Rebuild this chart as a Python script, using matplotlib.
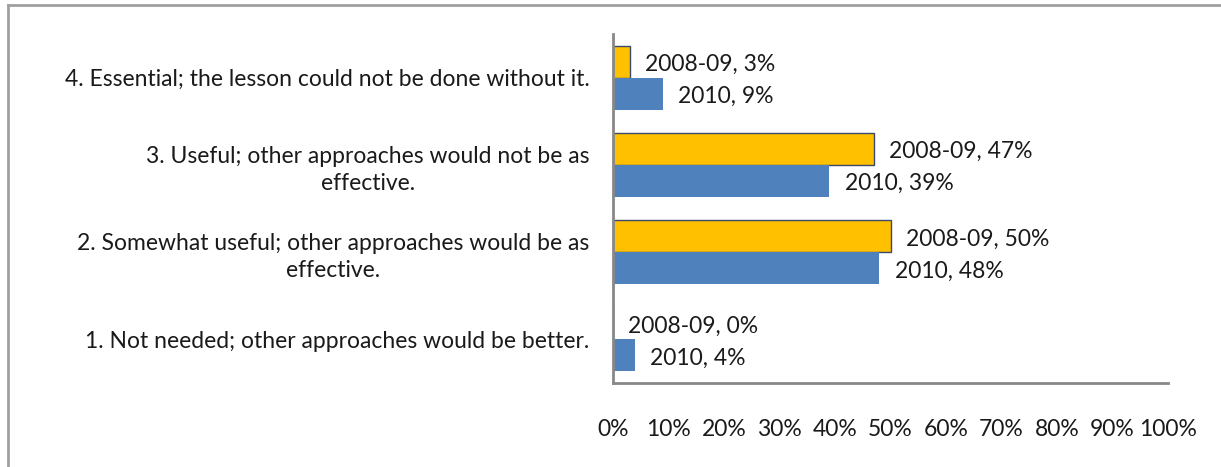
import numpy as np
import matplotlib.pyplot as plt
from matplotlib.lines import Line2D

plt.rcParams['font.family'] = ['Lato', 'DejaVu Sans']

categories = ["1. Not needed; other approaches would be better.",
              "2. Somewhat useful; other approaches would be as\neffective.",
              "3. Useful; other approaches would not be as\neffective.",
              "4. Essential; the lesson could not be done without it."]
pct_0809 = [0, 50, 47, 3]
pct_2010 = [4, 48, 39, 9]
series_names = ["2008-09", "2010"]
xticks = np.arange(0, 101, 10)

fig = plt.figure(figsize=(12.21, 4.67), dpi=100)
W, H = 1221, 467
ax = fig.add_axes([613 / W, 1 - 383 / H, (1168 - 613) / W, (383 - 34) / H])

y = np.arange(len(categories))
h = 0.368
b1 = ax.barh(y + h / 2, pct_0809, height=h, color='#FFC000', edgecolor='#3b4a6b', linewidth=1.0)
b2 = ax.barh(y - h / 2, pct_2010, height=h, color='#4F81BD', edgecolor='none')

txt = '#1a1a1a'
fs = 16.5
for bars, vals, name in [(b1, pct_0809, series_names[0]), (b2, pct_2010, series_names[1])]:
    for bar, v in zip(bars, vals):
        ax.annotate(f"{name}, {v}%", (v, bar.get_y() + bar.get_height() / 2),
                    xytext=(11, -2), textcoords='offset points',
                    va='center', ha='left', fontsize=fs, color=txt)

ax.set_xlim(0, 100)
ax.set_ylim(-0.5, len(categories) - 0.5)
ax.set_xticks(xticks)
ax.set_xticklabels([f"{t}%" for t in xticks], fontsize=fs, color=txt)
ax.set_yticks(y)
ax.set_yticklabels(categories, fontsize=fs, color=txt)
for lbl in ax.get_yticklabels():
    lbl.set_multialignment('center')
    lbl.set_linespacing(1.35)
ax.tick_params(axis='x', length=0, pad=26)
ax.tick_params(axis='y', length=0, pad=17)

for s in ['top', 'right']:
    ax.spines[s].set_visible(False)
for s in ['left', 'bottom']:
    ax.spines[s].set_color('#888888')
    ax.spines[s].set_linewidth(2)

# outer chart border (left and top visible)
fig.add_artist(Line2D([8 / W, 8 / W], [0, 1 - 5 / H], transform=fig.transFigure,
                      color='#a0a0a0', linewidth=2))
fig.add_artist(Line2D([8 / W, 1], [1 - 5 / H, 1 - 5 / H], transform=fig.transFigure,
                      color='#a0a0a0', linewidth=2))

fig.savefig('out.png', dpi=100)
